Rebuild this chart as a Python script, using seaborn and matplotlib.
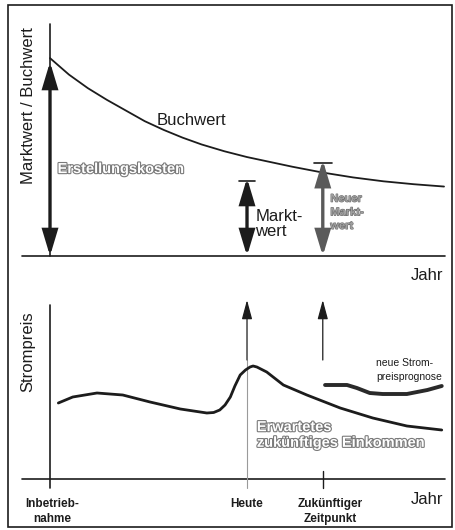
import matplotlib
matplotlib.use("Agg")
import matplotlib.pyplot as plt
import matplotlib.patheffects as pe
import pandas as pd
import seaborn as sns

# Buchwert curve (years since commissioning, value in % of construction cost)
BUCH_YEARS = [0, 2.5, 5, 7.5, 10, 12.5, 15, 17.5, 20, 23, 26, 29, 32, 36, 40, 44, 48, 52]
BUCH_VALUES = [102, 93.5, 86.5, 80.5, 75, 69.5, 65, 61, 57.5, 54, 51, 48.5, 46, 43, 40.5, 38.5, 37, 35.8]

# electricity price, expected path
PRICE_YEARS = [1.1, 3.0, 6.2, 9.6, 13.2, 17.2, 20.7, 21.6, 22.4, 23.1, 23.8, 24.4, 25.1,
               25.8, 26.4, 26.8, 27.3, 28.6, 30.8, 33.9, 38.3, 42.6, 47.1, 51.7]
PRICE_VALUES = [7.6, 8.2, 8.6, 8.4, 7.7, 7.0, 6.6, 6.65, 6.9, 7.4, 8.2, 9.3, 10.4,
                10.9, 11.2, 11.3, 11.2, 10.7, 9.4, 8.4, 7.1, 6.1, 5.3, 4.9]

# new price forecast
FORECAST_YEARS = [36.3, 39.2, 40.5, 42.2, 43.9, 47.1, 49.8, 51.7]
FORECAST_VALUES = [9.4, 9.4, 9.1, 8.6, 8.5, 8.5, 8.9, 9.3]

# key points in time
TIME_POINTS = [0, 26, 36]
TIME_LABELS = ["Inbetrieb-\nnahme", "Heute", "Zukünftiger\nZeitpunkt"]

# values shown as arrows
ERSTELLUNGSKOSTEN = 100
MARKTWERT = 38.7
NEUER_MARKTWERT = 47.9

sns.set_theme(style="white")
plt.rcParams["font.family"] = ["Liberation Sans", "DejaVu Sans"]

INK = "#1c1c1c"
GREY = "#5a5a5a"
OUTLINE = [pe.withStroke(linewidth=1.6, foreground="#7a7a7a")]

fig = plt.figure(figsize=(4.55, 5.30), dpi=100)
ax_top = fig.add_axes([0, 260 / 530, 1, 270 / 530])
ax_bot = fig.add_axes([0, 0, 1, 260 / 530])
for ax in (ax_top, ax_bot):
    ax.set_xlim(-6.6, 53.45)
    ax.axis("off")
ax_top.set_ylim(-7.22, 131.96)
ax_bot.set_ylim(-5.1, 20.9)

t0, t_heute, t_zuk = TIME_POINTS

# ---------- top panel ----------
ax_top.plot([-3.7, 52.1], [0, 0], color=INK, lw=1.2)
ax_top.plot([t0, t0], [0, 119.6], color=INK, lw=1.2)
buch = pd.DataFrame({"jahr": BUCH_YEARS, "wert": BUCH_VALUES})
sns.lineplot(data=buch, x="jahr", y="wert", ax=ax_top, color=INK, lw=1.3, sort=False)

def double_arrow(ax, x, top, color):
    ax.annotate("", xy=(x, top), xytext=(x, 0),
                arrowprops=dict(arrowstyle="<|-|>,head_length=1.5,head_width=0.45",
                                color=color, lw=2.4, mutation_scale=10,
                                shrinkA=0, shrinkB=0, joinstyle="miter"))

double_arrow(ax_top, t0, ERSTELLUNGSKOSTEN, INK)
double_arrow(ax_top, t_heute, MARKTWERT + 1.5, INK)
double_arrow(ax_top, t_zuk, NEUER_MARKTWERT + 1.5, GREY)
ax_top.plot([t_heute - 1.0, t_heute + 1.1], [MARKTWERT, MARKTWERT], color=INK, lw=1.2)
ax_top.plot([t_zuk - 1.2, t_zuk + 1.2], [NEUER_MARKTWERT, NEUER_MARKTWERT], color=INK, lw=1.2)

ax_top.text(14.1, 70.1, "Buchwert", fontsize=12, color=INK, va="center", ha="left")
ax_top.text(1.0, 44.8, "Erstellungskosten", fontsize=10.5, fontweight="bold", color="white",
            va="center", ha="left", path_effects=OUTLINE)
ax_top.text(27.1, 16.5, "Markt-\nwert", fontsize=12, color=INK, va="center", ha="left",
            linespacing=1.05)
ax_top.text(37.0, 22.5, "Neuer\nMarkt-\nwert", fontsize=8, fontweight="bold", color="#a0a0a0",
            va="center", ha="left", linespacing=1.45,
            path_effects=[pe.withStroke(linewidth=0.8, foreground="#6a6a6a")])
ax_top.text(-2.9, 77.3, "Marktwert / Buchwert", fontsize=12, color=INK, rotation=90,
            va="center", ha="center")
ax_top.text(51.9, -10.0, "Jahr", fontsize=12, color=INK, va="center", ha="right")

# ---------- bottom panel ----------
ax_bot.plot([-3.7, 52.1], [0, 0], color=INK, lw=1.2)
ax_bot.plot([t0, t0], [-0.9, 17.4], color=INK, lw=1.2)
ax_bot.plot([t_heute, t_heute], [-0.9, 11.9], color="#9a9a9a", lw=0.8)
ax_bot.plot([t_zuk, t_zuk], [-0.9, 0.8], color=INK, lw=1.0)
for t in (t_heute, t_zuk):
    ax_bot.annotate("", xy=(t, 17.9), xytext=(t, 11.9),
                    arrowprops=dict(arrowstyle="-|>,head_length=1.3,head_width=0.35",
                                    color=INK, lw=0.9, mutation_scale=9,
                                    shrinkA=0, shrinkB=0))

price = pd.DataFrame({"jahr": PRICE_YEARS, "preis": PRICE_VALUES})
sns.lineplot(data=price, x="jahr", y="preis", ax=ax_bot, color=INK, lw=2.0, sort=False)
forecast = pd.DataFrame({"jahr": FORECAST_YEARS, "preis": FORECAST_VALUES})
sns.lineplot(data=forecast, x="jahr", y="preis", ax=ax_bot, color="#2a2a2a", lw=2.8, sort=False)

ax_bot.text(43.0, 10.9, "neue Strom-\npreisprognose", fontsize=7.5, color=INK,
            va="center", ha="left", linespacing=1.45)
ax_bot.text(27.3, 4.4, "Erwartetes\nzukünftiges Einkommen", fontsize=10.5, fontweight="bold",
            color="white", va="center", ha="left", linespacing=1.15, path_effects=OUTLINE)
ax_bot.text(-2.9, 12.7, "Strompreis", fontsize=12, color=INK, rotation=90,
            va="center", ha="center")
ax_bot.text(51.9, -2.1, "Jahr", fontsize=12, color=INK, va="center", ha="right")

label_x = [0.3, t_heute, 37.0]
for x, lab in zip(label_x, TIME_LABELS):
    ax_bot.text(x, -1.9, lab, fontsize=8.5, fontweight="bold", color=INK,
                va="top", ha="center", linespacing=1.3)

# outer frame
fig.patches.append(plt.Rectangle((8 / 455, 3 / 530), 444 / 455, 522 / 530,
                                 transform=fig.transFigure, fill=False,
                                 edgecolor=INK, lw=1.2))

fig.savefig("out.png", dpi=100, facecolor="white")
